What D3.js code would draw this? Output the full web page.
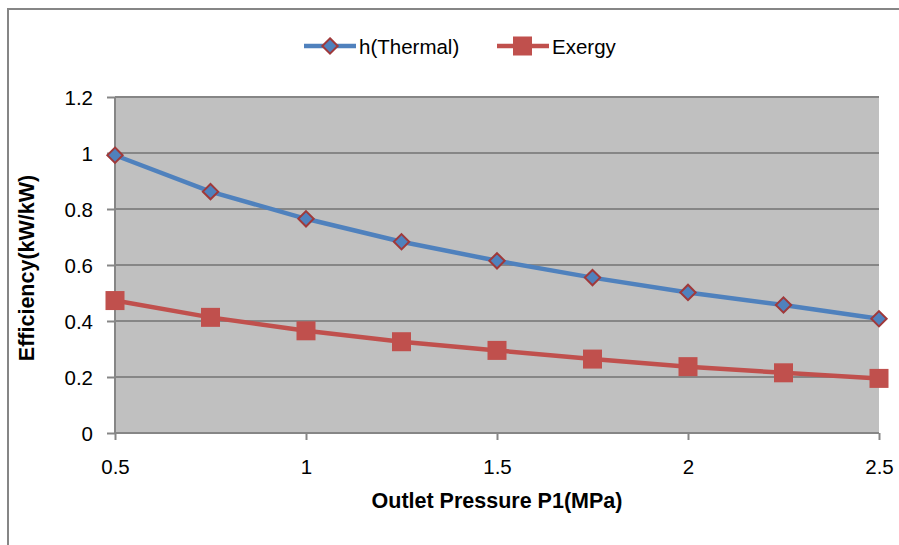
<!DOCTYPE html>
<html>
<head>
<meta charset="utf-8">
<script src="https://cdn.jsdelivr.net/npm/d3@7"></script>
<style>
  html, body { margin: 0; padding: 0; background: #fff; }
  svg { display: block; }
  text { font-family: "Liberation Sans", Arial, sans-serif; fill: #000; }
</style>
</head>
<body>
<svg id="chart" width="899" height="545"></svg>
<script>
// Outlet pressure P1 (MPa)
const pressure = [0.5, 0.75, 1.0, 1.25, 1.5, 1.75, 2.0, 2.25, 2.5];
// Thermal efficiency η
const thermal = [0.992, 0.862, 0.765, 0.683, 0.615, 0.555, 0.502, 0.457, 0.408];
// Exergy efficiency
const exergy = [0.473, 0.413, 0.365, 0.326, 0.295, 0.264, 0.237, 0.215, 0.195];
const xTicks = [0.5, 1, 1.5, 2, 2.5];
const yTicks = [0, 0.2, 0.4, 0.6, 0.8, 1, 1.2];
const seriesNames = ["h(Thermal)", "Exergy"];

const svg = d3.select("#chart");
const W = 899, H = 545;
const plot = { left: 115, right: 879, top: 97, bottom: 433 };

const x = d3.scaleLinear().domain([0.5, 2.5]).range([plot.left, plot.right]);
const y = d3.scaleLinear().domain([0, 1.2]).range([plot.bottom, plot.top]);

// chart frame
svg.append("rect")
  .attr("x", 8).attr("y", 9).attr("width", W + 10).attr("height", H + 10)
  .attr("fill", "#fff").attr("stroke", "#868686").attr("stroke-width", 2);

// plot background
svg.append("rect")
  .attr("x", plot.left).attr("y", plot.top)
  .attr("width", plot.right - plot.left).attr("height", plot.bottom - plot.top)
  .attr("fill", "#c0c0c0");

// horizontal gridlines
svg.append("g").selectAll("line")
  .data(yTicks.filter(d => d > 0))
  .join("line")
  .attr("x1", plot.left).attr("x2", plot.right)
  .attr("y1", d => y(d)).attr("y2", d => y(d))
  .attr("stroke", "#868686").attr("stroke-width", 2);

const fmt = d => d3.format("~g")(d);

// y axis
const yAxis = svg.append("g")
  .attr("transform", `translate(${plot.left},0)`)
  .call(d3.axisLeft(y).tickValues(yTicks).tickSize(8).tickPadding(14).tickFormat(fmt));
yAxis.selectAll("path, line").attr("stroke", "#868686").attr("stroke-width", 2);
yAxis.select(".domain").attr("d", `M0,${plot.top}V${plot.bottom}`);
yAxis.selectAll("text").attr("font-size", 20.5).attr("font-family", null).attr("dy", "0.36em");

// x axis
const xAxis = svg.append("g")
  .attr("transform", `translate(0,${plot.bottom})`)
  .call(d3.axisBottom(x).tickValues(xTicks).tickSize(7).tickPadding(0).tickFormat(fmt));
xAxis.selectAll("path, line").attr("stroke", "#868686").attr("stroke-width", 2);
xAxis.select(".domain").attr("d", `M${plot.left},0H${plot.right}`);
xAxis.selectAll("text").attr("font-size", 20.5).attr("font-family", null)
  .attr("y", 41).attr("dy", null);

// axis titles
svg.append("text")
  .attr("x", (plot.left + plot.right) / 2).attr("y", 508)
  .attr("text-anchor", "middle").attr("font-size", 21.5).attr("font-weight", "bold")
  .text("Outlet Pressure P1(MPa)");
svg.append("text")
  .attr("transform", `translate(34,${(plot.top + plot.bottom) / 2 + 3}) rotate(-90)`)
  .attr("text-anchor", "middle").attr("font-size", 21.5).attr("font-weight", "bold")
  .text("Efficiency(kW/kW)");

const line = d3.line().x(d => x(d[0])).y(d => y(d[1]));
const thermalPts = pressure.map((p, i) => [p, thermal[i]]);
const exergyPts = pressure.map((p, i) => [p, exergy[i]]);

const blue = "#4f81bd", red = "#c0504d", darkRed = "#a0393a";
const diamond = d3.symbol().type(d3.symbolDiamond2).size(150);

// exergy series
svg.append("path").datum(exergyPts)
  .attr("d", line).attr("fill", "none").attr("stroke", red).attr("stroke-width", 4.5);
svg.append("g").selectAll("rect").data(exergyPts).join("rect")
  .attr("x", d => x(d[0]) - 9.5).attr("y", d => y(d[1]) - 9.5)
  .attr("width", 19).attr("height", 19).attr("fill", red);

// thermal series
svg.append("path").datum(thermalPts)
  .attr("d", line).attr("fill", "none").attr("stroke", blue).attr("stroke-width", 4.5);
svg.append("g").selectAll("path").data(thermalPts).join("path")
  .attr("transform", d => `translate(${x(d[0])},${y(d[1])})`)
  .attr("d", diamond).attr("fill", blue).attr("stroke", darkRed).attr("stroke-width", 2);

// legend
const lg = svg.append("g");
const legendY = 46;
lg.append("line").attr("x1", 304).attr("x2", 356).attr("y1", legendY).attr("y2", legendY)
  .attr("stroke", blue).attr("stroke-width", 4.5);
lg.append("path").attr("transform", `translate(330,${legendY})`)
  .attr("d", diamond).attr("fill", blue).attr("stroke", darkRed).attr("stroke-width", 2);
lg.append("text").attr("x", 359).attr("y", legendY + 8).attr("font-size", 20.5).text(seriesNames[0]);
lg.append("line").attr("x1", 497).attr("x2", 549).attr("y1", legendY).attr("y2", legendY)
  .attr("stroke", red).attr("stroke-width", 4.5);
lg.append("rect").attr("x", 513).attr("y", legendY - 9.5).attr("width", 19).attr("height", 19).attr("fill", red);
lg.append("text").attr("x", 552).attr("y", legendY + 8).attr("font-size", 20.5).text(seriesNames[1]);
</script>
</body>
</html>
